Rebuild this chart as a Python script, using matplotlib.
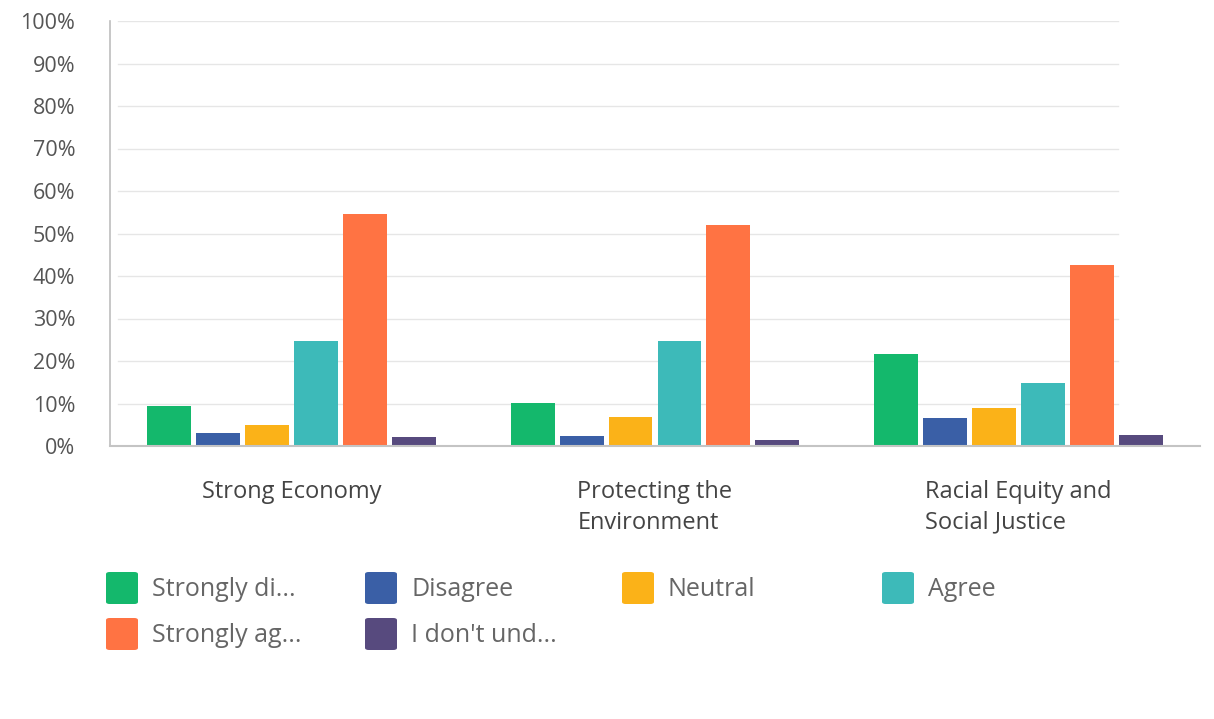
import matplotlib
matplotlib.use("Agg")
import matplotlib.pyplot as plt
import numpy as np
from matplotlib.patches import FancyBboxPatch

categories = ["Strong Economy", "Protecting the\nEnvironment", "Racial Equity and\nSocial Justice"]
series_names = ["Strongly di...", "Disagree", "Neutral", "Agree", "Strongly ag...", "I don't und..."]
strongly_disagree = [9.4, 10.2, 21.6]
disagree = [3.1, 2.4, 6.6]
neutral = [5.0, 6.9, 8.9]
agree = [24.6, 24.8, 14.9]
strongly_agree = [54.6, 52.0, 42.6]
dont_understand = [2.1, 1.4, 2.6]
values = [strongly_disagree, disagree, neutral, agree, strongly_agree, dont_understand]
colors = ["#14b86c", "#3a5fa6", "#fbb218", "#3dbab9", "#ff7343", "#574a7e"]
yticks = [0, 10, 20, 30, 40, 50, 60, 70, 80, 90, 100]
ytick_labels = [f"{t}%" for t in yticks]

plt.rcParams['font.family'] = ['Open Sans', 'DejaVu Sans']

W, H = 1214, 719
fig = plt.figure(figsize=(W / 100, H / 100), dpi=100)
ax = fig.add_axes([110 / W, 1 - 446 / H, (1200 - 110) / W, (446 - 21) / H])

x = np.arange(len(categories))
pitch = 0.1348
width = 0.121
n = len(values)
for i, (vals, c) in enumerate(zip(values, colors)):
    ax.bar(x + (i - (n - 1) / 2) * pitch, vals, width=width, color=c, zorder=3)

ax.set_xlim(-0.5, 2.5)
ax.set_ylim(0, 100)

# gridlines
for t in yticks[1:]:
    ax.plot([0.0073, 0.925], [t, t], transform=ax.get_yaxis_transform(),
            color="#e6e6e6", lw=1, zorder=1)

for s in ["top", "right"]:
    ax.spines[s].set_visible(False)
ax.spines["left"].set_color("#bdbdbd")
ax.spines["bottom"].set_color("#c4c4c4")
ax.spines["left"].set_linewidth(1.2)
ax.spines["bottom"].set_linewidth(1.5)
ax.spines["left"].set_zorder(4)
ax.spines["bottom"].set_zorder(4)

ax.set_yticks(yticks)
ax.set_yticklabels(ytick_labels, fontsize=15.5, color="#555555")
ax.tick_params(axis="y", length=0, pad=25)
ax.set_xticks(x)
ax.set_xticklabels([])
ax.tick_params(axis="x", length=0)

for xi, cat in zip(x, categories):
    ax.text(xi, -7.9, cat, ha="center", va="top", multialignment="left",
            fontsize=17, color="#444444", linespacing=1.4,
            transform=ax.transData, clip_on=False)

# legend (manual, to match layout)
col_x = [106, 365, 622, 882]
row_y = [588, 634]
positions = [(0, 0), (1, 0), (2, 0), (3, 0), (0, 1), (1, 1)]
sq = 32
for name, c, (ci, ri) in zip(series_names, colors, positions):
    x0 = col_x[ci]
    yc = row_y[ri]
    p = FancyBboxPatch((x0 / W, 1 - (yc + sq / 2) / H), sq / W, sq / H,
                       boxstyle="round,pad=0,rounding_size=0.003",
                       transform=fig.transFigure, facecolor=c, edgecolor="none")
    fig.patches.append(p)
    fig.text((x0 + 46) / W, 1 - (yc + 1) / H, name, ha="left", va="center",
             fontsize=18, color="#666666")

fig.savefig("out.png", dpi=100, facecolor="white")
